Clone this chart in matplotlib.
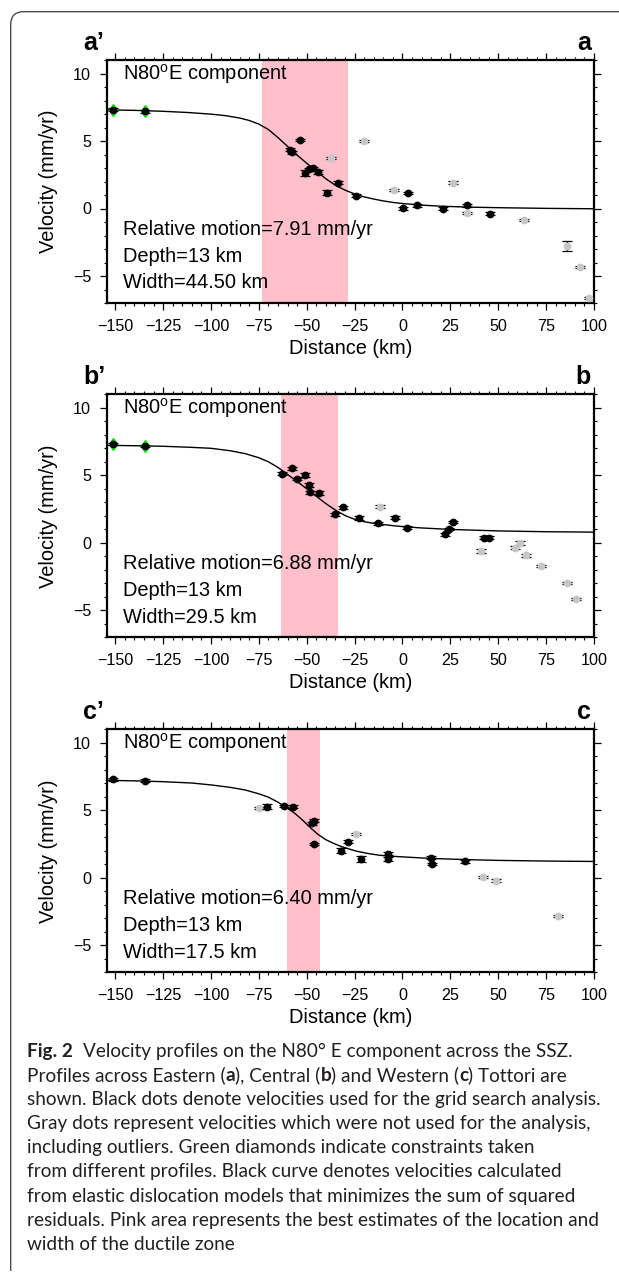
import matplotlib
matplotlib.use('Agg')
import matplotlib.pyplot as plt
from matplotlib.path import Path
from matplotlib.patches import PathPatch
from matplotlib.ticker import MultipleLocator

plt.rcParams['font.family'] = ['Liberation Sans', 'DejaVu Sans']
plt.rcParams['mathtext.fontset'] = 'custom'
plt.rcParams['mathtext.rm'] = 'Liberation Sans'
plt.rcParams['mathtext.it'] = 'Liberation Sans:italic'
plt.rcParams['mathtext.bf'] = 'Liberation Sans:bold'

# ---------------- data ----------------
panel_left_labels = ["a\u2019", "b\u2019", "c\u2019"]
panel_right_labels = ["a", "b", "c"]
relative_motion = ["7.91", "6.88", "6.40"]
depth_km = ["13", "13", "13"]
width_km = ["44.50", "29.5", "17.5"]
pink_a = (-73.2, -28.7)
pink_b = (-63.2, -33.7)
pink_c = (-60.3, -43.0)

# model curves (distance km, velocity mm/yr)
curve_a_x = [-154, -140, -125, -112, -100, -92, -85, -80, -75, -70, -65, -60, -55, -50, -45, -40, -35, -30,
             -25, -20, -15, -10, -5, 0, 10, 20, 35, 50, 75, 100]
curve_a_y = [7.31, 7.27, 7.20, 7.11, 6.99, 6.87, 6.70, 6.52, 6.25, 5.85, 5.25, 4.60, 3.95, 3.35, 2.78, 2.20,
             1.72, 1.36, 1.08, 0.86, 0.70, 0.56, 0.45, 0.37, 0.25, 0.17, 0.10, 0.06, 0.01, -0.02]
curve_b_x = [-154, -140, -125, -110, -100, -90, -82, -75, -70, -65, -60, -55, -50, -45, -40, -35, -30, -25,
             -20, -15, -10, -5, 0, 10, 25, 50, 75, 100]
curve_b_y = [7.22, 7.19, 7.15, 7.07, 7.00, 6.82, 6.60, 6.30, 6.00, 5.58, 5.06, 4.54, 4.00, 3.45, 2.90, 2.42,
             2.02, 1.74, 1.56, 1.44, 1.35, 1.27, 1.20, 1.10, 0.99, 0.88, 0.82, 0.79]
curve_c_x = [-154, -140, -125, -110, -100, -90, -82, -75, -70, -65, -60, -56, -52, -48, -44, -40, -36, -32,
             -28, -24, -18, -12, -6, 0, 10, 20, 35, 50, 75, 100]
curve_c_y = [7.22, 7.18, 7.12, 7.02, 6.88, 6.70, 6.50, 6.22, 5.97, 5.60, 5.15, 4.75, 4.25, 3.70, 3.20, 2.82,
             2.55, 2.32, 2.14, 1.97, 1.80, 1.67, 1.60, 1.55, 1.47, 1.41, 1.34, 1.29, 1.24, 1.21]

# used (black) velocities
black_a_x = [-151.0, -134.5, -53.7, -58.5, -57.8, -50.8, -49.0, -46.5, -44.3, -33.5, -39.5, -24.2, 0.3, 2.8,
             7.8, 21.2, 33.5, 45.6]
black_a_y = [7.31, 7.19, 5.08, 4.35, 4.15, 2.62, 2.90, 2.98, 2.70, 1.90, 1.17, 0.95, 0.02, 1.15, 0.23, 0.00,
             0.24, -0.38]
black_a_e = [0.10, 0.10, 0.10, 0.12, 0.12, 0.22, 0.12, 0.12, 0.15, 0.12, 0.20, 0.10, 0.10, 0.10, 0.10, 0.10,
             0.10, 0.10]
gray_a_x = [-20.3, -37.1, -4.6, 26.6, 33.6, 63.4, 85.8, 92.9, 97.5]
gray_a_y = [5.00, 3.73, 1.37, 1.92, -0.33, -0.85, -2.77, -4.31, -6.62]
gray_a_e = [0.08, 0.10, 0.08, 0.10, 0.08, 0.08, 0.35, 0.08, 0.08]
green_a_x = [-151.0, -134.5]
green_a_y = [7.31, 7.19]

black_b_x = [-151.0, -134.5, -62.8, -57.6, -55.1, -50.8, -49.0, -48.2, -43.6, -35.4, -31.2, -22.5, -12.6, -3.9,
             2.3, 22.3, 24.1, 26.2, 42.8, 45.2]
black_b_y = [7.31, 7.17, 5.12, 5.52, 4.73, 5.02, 4.26, 3.74, 3.69, 2.12, 2.64, 1.87, 1.45, 1.85, 1.13, 0.64,
             1.03, 1.53, 0.39, 0.39]
black_b_e = [0.10, 0.10, 0.10, 0.10, 0.10, 0.15, 0.15, 0.12, 0.15, 0.10, 0.12, 0.15, 0.12, 0.10, 0.10, 0.10,
             0.10, 0.10, 0.10, 0.10]
gray_b_x = [-12.0, 41.0, 58.6, 61.1, 64.4, 72.4, 86.0, 90.7]
gray_b_y = [2.68, -0.59, -0.37, -0.02, -0.94, -1.70, -2.96, -4.19]
gray_b_e = [0.12, 0.15, 0.12, 0.12, 0.08, 0.08, 0.08, 0.08]
green_b_x = [-151.0, -134.5]
green_b_y = [7.31, 7.17]

black_c_x = [-151.1, -134.6, -70.5, -62.1, -57.1, -46.4, -47.0, -46.0, -32.0, -28.5, -21.9, -7.8, -7.4, 14.8,
             15.3, 32.4]
black_c_y = [7.29, 7.19, 5.27, 5.32, 5.27, 4.24, 4.04, 2.51, 2.02, 2.68, 1.40, 1.80, 1.40, 1.50, 1.03, 1.21]
black_c_e = [0.10, 0.10, 0.18, 0.10, 0.10, 0.12, 0.12, 0.10, 0.20, 0.10, 0.20, 0.10, 0.12, 0.10, 0.10, 0.12]
gray_c_x = [-74.8, -24.5, 42.1, 48.9, 81.4]
gray_c_y = [5.15, 3.25, 0.05, -0.20, -2.86]
gray_c_e = [0.08, 0.08, 0.08, 0.08, 0.08]
green_c_x = []
green_c_y = []

x_limits = (-154.3, 100)
y_limits = (-7, 11)

caption_lines = [
    [("Fig. 2", True), ("  Velocity profiles on the N80\u00b0 E component across the SSZ.", False)],
    [("Profiles across Eastern (", False), ("a", True), ("), Central (", False), ("b", True),
     (") and Western (", False), ("c", True), (") Tottori are", False)],
    [("shown. Black dots denote velocities used for the grid search analysis.", False)],
    [("Gray dots represent velocities which were not used for the analysis,", False)],
    [("including outliers. Green diamonds indicate constraints taken", False)],
    [("from different profiles. Black curve denotes velocities calculated", False)],
    [("from elastic dislocation models that minimizes the sum of squared", False)],
    [("residuals. Pink area represents the best estimates of the location and", False)],
    [("width of the ductile zone", False)],
]

# ---------------- figure ----------------
W, H = 619, 1280
fig = plt.figure(figsize=(W / 100, H / 100), dpi=100)


def fx(px):
    return px / W


def fy(py):
    return 1 - py / H


# outer rounded frame
r = 13
x0, y0 = 10.7, 11.7
verts = [(fx(x0), fy(1271)), (fx(x0), fy(y0 + r)), (fx(x0), fy(y0)), (fx(x0 + r), fy(y0)), (fx(W + 5), fy(y0))]
codes = [Path.MOVETO, Path.LINETO, Path.CURVE3, Path.CURVE3, Path.LINETO]
fig.patches.append(PathPatch(Path(verts, codes), transform=fig.transFigure, fill=False,
                             edgecolor='#3a3a3a', lw=0.9))

panels = [
    (60.0, curve_a_x, curve_a_y, black_a_x, black_a_y, black_a_e, gray_a_x, gray_a_y, gray_a_e,
     green_a_x, green_a_y, pink_a),
    (394.3, curve_b_x, curve_b_y, black_b_x, black_b_y, black_b_e, gray_b_x, gray_b_y, gray_b_e,
     green_b_x, green_b_y, pink_b),
    (729.3, curve_c_x, curve_c_y, black_c_x, black_c_y, black_c_e, gray_c_x, gray_c_y, gray_c_e,
     green_c_x, green_c_y, pink_c),
]

AX_L, AX_W, AX_H = 107, 487, 243
TXT = 14.4
for i, (top, cx, cy, bx, by, be, gx, gy, ge, grx, gry, pink) in enumerate(panels):
    ax = fig.add_axes([fx(AX_L), fy(top + AX_H), AX_W / W, AX_H / H])
    ax.set_xlim(*x_limits)
    ax.set_ylim(*y_limits)
    ax.axvspan(pink[0], pink[1], color='#ffc0cb', lw=0, zorder=1)
    ax.plot(cx, cy, color='black', lw=1.0, zorder=2, solid_joinstyle='round')
    # gray (unused) points
    ax.errorbar(gx, gy, yerr=ge, fmt='none', ecolor='black', elinewidth=0.9, capsize=3.4, capthick=0.9,
                zorder=3)
    ax.plot(gx, gy, 'o', color='#c6c6c6', ms=4.6, mec='#c6c6c6', zorder=4)
    # green diamonds
    if len(grx):
        ax.plot(grx, gry, 'd', color='#00ee00', ms=6.5, mec='#00ee00', zorder=4.5)
    # black (used) points
    ax.errorbar(bx, by, yerr=be, fmt='o', color='black', ms=4.6, elinewidth=0.9, capsize=3.4,
                capthick=0.9, zorder=5)

    ax.xaxis.set_major_locator(MultipleLocator(25))
    ax.xaxis.set_minor_locator(MultipleLocator(5))
    ax.yaxis.set_major_locator(MultipleLocator(5))
    ax.yaxis.set_minor_locator(MultipleLocator(1))
    ax.tick_params(which='both', direction='out', top=True, right=True, labeltop=False, labelright=False,
                   colors='black')
    ax.tick_params(which='major', length=5, width=0.9, pad=6.5, labelsize=11.6)
    ax.tick_params(which='minor', length=2.4, width=0.8)
    for s in ax.spines.values():
        s.set_linewidth(1.6)

    ax.text(-146, 10, r'N80$^{\rm o}$E component', fontsize=TXT, va='center', ha='left', zorder=6)
    ax.text(-146, -1.55, 'Relative motion=%s mm/yr' % relative_motion[i], fontsize=TXT, va='center',
            ha='left', zorder=6)
    ax.text(-146, -3.53, 'Depth=%s km' % depth_km[i], fontsize=TXT, va='center', ha='left', zorder=6)
    ax.text(-146, -5.5, 'Width=%s km' % width_km[i], fontsize=TXT, va='center', ha='left', zorder=6)

    fig.text(fx(AX_L + AX_W / 2), fy(top + AX_H + 45), 'Distance (km)', fontsize=TXT, ha='center',
             va='center')
    fig.text(fx(49), fy(top + AX_H / 2), 'Velocity (mm/yr)', fontsize=TXT, ha='center', va='center',
             rotation=90)
    fig.text(fx(83), fy(top - 17), panel_left_labels[i], fontsize=18, weight='bold', ha='left',
             va='center')
    fig.text(fx(591), fy(top - 17), panel_right_labels[i], fontsize=18, weight='bold', ha='right',
             va='center')

# ---------------- caption ----------------
fig.canvas.draw()
renderer = fig.canvas.get_renderer()
CAP_FONT = ['Lato', 'DejaVu Sans']


def text_width(s, size, bold):
    t = fig.text(0, 0, s, fontsize=size, family=CAP_FONT, weight='bold' if bold else 'normal')
    w = t.get_window_extent(renderer).width
    t.remove()
    return w


ref = caption_lines[2][0][0]
size = 10.0 * 575.0 / text_width(ref, 10.0, False)

CAP_X = 27
BASE0 = 1056.5
LINE = 24.2
for li, segs in enumerate(caption_lines):
    x = CAP_X
    yb = BASE0 + li * LINE
    for txt, bold in segs:
        sp = text_width('a a', size, bold) - text_width('aa', size, bold)
        lead = len(txt) - len(txt.lstrip(' '))
        trail = len(txt) - len(txt.rstrip(' '))
        core = txt.strip(' ')
        x += lead * sp
        fig.text(fx(x), fy(yb), core, fontsize=size, family=CAP_FONT, weight='bold' if bold else 'normal',
                 ha='left', va='baseline', color='#231f20')
        x += text_width(core, size, bold) + trail * sp

fig.savefig('out.png', dpi=100)
